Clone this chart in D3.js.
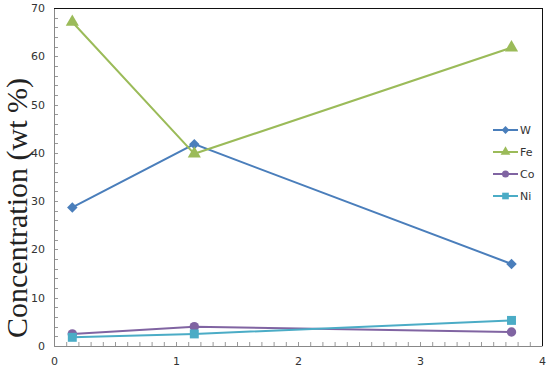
<!DOCTYPE html>
<html><head><meta charset="utf-8">
<script src="https://cdn.jsdelivr.net/npm/d3@7"></script>
<style>body{margin:0;background:#fff}svg{display:block}</style>
</head><body>
<svg id="c" width="550" height="372"></svg>
<script>
const xValues = [0.15, 1.15, 3.75];
const seriesNames = ["W", "Fe", "Co", "Ni"];
const W  = [28.7, 41.8, 17.0];
const Fe = [67.1, 39.8, 61.8];
const Co = [2.5, 4.0, 2.9];
const Ni = [1.8, 2.5, 5.3];
const xTicks = [0, 1, 2, 3, 4];
const yTicks = [0, 10, 20, 30, 40, 50, 60, 70];
const yLabel = "Concentration (wt %)";

const colors = {W:"#4a7ebb", Fe:"#9bbb59", Co:"#8064a2", Ni:"#4bacc6"};
const symbols = {W:d3.symbolSquare, Fe:d3.symbolTriangle, Co:d3.symbolCircle, Ni:d3.symbolSquare};
const symRot = {W:45, Fe:0, Co:0, Ni:0};
const symSize = {W:55, Fe:75, Co:70, Ni:80};
const data = {W, Fe, Co, Ni};

const svg = d3.select("#c");
const L=54, R=542, T=8, B=346;
const x = d3.scaleLinear().domain([0,4]).range([L,R]);
const y = d3.scaleLinear().domain([0,70]).range([B,T]);

// minor ticks
const xMinor = d3.range(0, 4.0001, 0.1);
svg.append("g").selectAll("line").data(xMinor).join("line")
  .attr("x1", d=>x(d)+0.5).attr("x2", d=>x(d)+0.5).attr("y1", B).attr("y2", B-4)
  .attr("stroke", "#999").attr("stroke-width", 1);
const yMinor = d3.range(0, 70.001, 2);
svg.append("g").selectAll("line").data(yMinor).join("line")
  .attr("y1", d=>Math.round(y(d))+0.5).attr("y2", d=>Math.round(y(d))+0.5).attr("x1", L).attr("x2", L+4)
  .attr("stroke", "#999").attr("stroke-width", 1);

// axes
const xAxis = svg.append("g").attr("transform", `translate(0,${B})`)
  .call(d3.axisBottom(x).tickValues(xTicks).tickSize(0).tickPadding(11).tickFormat(d3.format("d")));
xAxis.select(".domain").attr("stroke", "#888");
const yAxis = svg.append("g").attr("transform", `translate(${L},0)`)
  .call(d3.axisLeft(y).tickValues(yTicks).tickSize(0).tickPadding(9).tickFormat(d3.format("d")));
yAxis.select(".domain").attr("stroke", "#888");
svg.selectAll(".tick text").attr("font-family", "'DejaVu Sans', Verdana, sans-serif")
  .attr("font-size", 11).attr("fill", "#333");

// top / right border
svg.append("line").attr("x1", L).attr("x2", R).attr("y1", T+0.5).attr("y2", T+0.5).attr("stroke", "#111");
svg.append("line").attr("x1", R+0.5).attr("x2", R+0.5).attr("y1", T).attr("y2", B).attr("stroke", "#111");

// y label
svg.append("text").attr("transform", `translate(27,${208}) rotate(-90)`)
  .attr("text-anchor", "middle").attr("font-family", "'Liberation Serif', 'Times New Roman', serif")
  .attr("font-size", 30).attr("fill", "#222").text(yLabel);

// series
const line = d3.line().x((d,i)=>x(xValues[i])).y(d=>y(d));
seriesNames.forEach(name=>{
  const g = svg.append("g");
  g.append("path").datum(data[name]).attr("d", line).attr("fill","none")
    .attr("stroke", colors[name]).attr("stroke-width", 2);
  g.selectAll("path.m").data(data[name]).join("path").attr("class","m")
    .attr("transform", (d,i)=>`translate(${x(xValues[i])},${y(d)}) rotate(${symRot[name]})`)
    .attr("d", d3.symbol(symbols[name], symSize[name]))
    .attr("fill", colors[name]);
});

// legend
const lg = svg.append("g");
seriesNames.forEach((name,i)=>{
  const yy = 130 + i*22;
  lg.append("line").attr("x1", 493).attr("x2", 518).attr("y1", yy).attr("y2", yy)
    .attr("stroke", colors[name]).attr("stroke-width", 2);
  lg.append("path").attr("transform", `translate(505.5,${yy}) rotate(${symRot[name]})`)
    .attr("d", d3.symbol(symbols[name], symSize[name]*0.55)).attr("fill", colors[name]);
  lg.append("text").attr("x", 520).attr("y", yy+4).text(name)
    .attr("font-family", "'DejaVu Sans', Verdana, sans-serif").attr("font-size", 11).attr("fill", "#333");
});
</script>
</body></html>
